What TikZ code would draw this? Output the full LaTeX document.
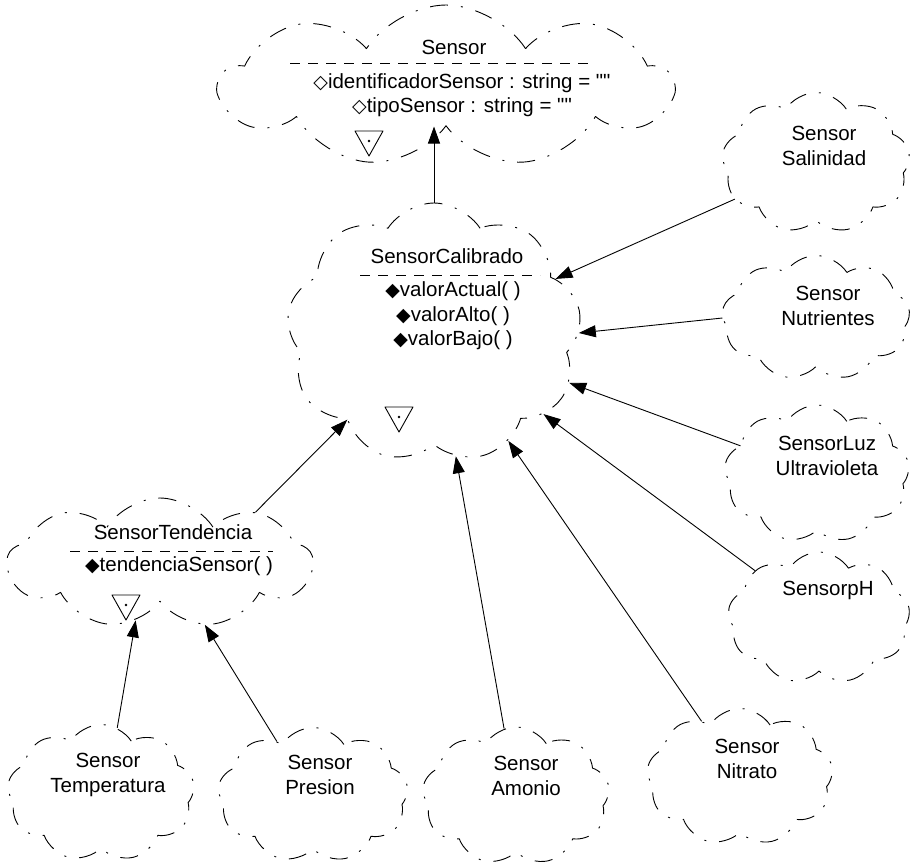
\documentclass[tikz,border=0pt]{standalone}
\usepackage{fontspec}
\setmainfont{Liberation Sans}[Ligatures=TeXOff]
\newfontfamily\diafont{DejaVu Sans}
\usetikzlibrary{arrows.meta,shapes.symbols}
\newcommand\mdia{{\diafont\fontsize{19}{19}\selectfont ◆}}
\newcommand\adia{{\diafont\fontsize{19}{19}\selectfont ◇}}
\begin{document}
\begin{tikzpicture}[>={Triangle[length=17pt,width=12pt]},x=1pt,y=-1pt,font=\fontsize{20.5}{24.5}\selectfont,line join=round,
	booch/.style={cloud,cloud puffs=9,cloud puff arc=115,cloud ignores aspect,draw,line width=0.9pt,dash pattern=on 18pt off 13pt on 2pt off 13pt,inner sep=0pt},
	txt/.style={align=center,inner sep=1pt},
	sepline/.style={line width=0.7pt,dash pattern=on 10pt off 8pt},
	con/.style={->,line width=0.9pt}]
	\useasboundingbox (0,0) rectangle (912,865);
	% clases
	\node[booch,minimum width=452,minimum height=162] (sensor) at (446,86) {};
	\node[booch,minimum width=295,minimum height=260] (calib) at (434,333) {};
	\node[booch,minimum width=305,minimum height=130] (tend) at (160,563) {};
	\node[booch,minimum width=188,minimum height=141] (salin) at (816,163) {};
	\node[booch,minimum width=188,minimum height=125] (nutri) at (816,318) {};
	\node[booch,minimum width=185,minimum height=138] (luz) at (817,474) {};
	\node[booch,minimum width=182,minimum height=132] (ph) at (819,618) {};
	\node[booch,minimum width=187,minimum height=137] (temp) at (101,793) {};
	\node[booch,minimum width=190,minimum height=135] (pres) at (313,795) {};
	\node[booch,minimum width=187,minimum height=138] (amon) at (516,796) {};
	\node[booch,minimum width=186,minimum height=137] (nitr) at (740,777) {};
	% textos
	\node[txt] (sensorN) at (454,47) {Sensor};
	\node[txt] (sensorA) at (462,95) {\adia identificadorSensor : string = ""\\\adia tipoSensor : string = ""};
	\node[txt] (calibN) at (447,256) {SensorCalibrado};
	\node[txt] (calibM) at (453,316) {\mdia valorActual( )\\\mdia valorAlto( )\\\mdia valorBajo( )};
	\node[txt] (tendN) at (173,532) {SensorTendencia};
	\node[txt] (tendM) at (179,566) {\mdia tendenciaSensor( )};
	\node[txt] (salinT) at (824,146) {Sensor\\Salinidad};
	\node[txt] (nutriT) at (828,306) {Sensor\\Nutrientes};
	\node[txt] (luzT) at (827,456) {SensorLuz\\Ultravioleta};
	\node[txt] (phT) at (828,590) {SensorpH};
	\node[txt] (tempT) at (108,775) {Sensor\\Temperatura};
	\node[txt] (presT) at (320,775) {Sensor\\Presion};
	\node[txt] (amonT) at (526,776) {Sensor\\Amonio};
	\node[txt] (nitrT) at (747,759) {Sensor\\Nitrato};
	% separadores y adornos
	\draw[sepline] (290,63) -- (590,63) (360,275) -- (540,275) (70,551) -- (273,551);
	\foreach \x/\y in {369/131,399/407,126/595} {
		\draw[line width=0.9pt] (\x-14,\y) -- (\x+14,\y) -- (\x,\y+25) -- cycle;
		\fill (\x,\y+10) circle (1.4pt);
	}
	% herencia
	\draw[con] (calib.north) -- (calib.north |- sensor.south);
	\draw[con] (salin) -- (calib);
	\draw[con] (nutri.west) -- (calib.east);
	\draw[con] (luz) -- (calib);
	\draw[con] (ph) -- (calib);
	\draw[con] (nitr) -- (calib);
	\draw[con] (amon) -- (calib);
	\draw[con] (tend.28) -- (calib.225);
	\draw[con] (temp.76) -- (tend.247);
	\draw[con] (pres.124) -- (tend.306);
\end{tikzpicture}
\end{document}
